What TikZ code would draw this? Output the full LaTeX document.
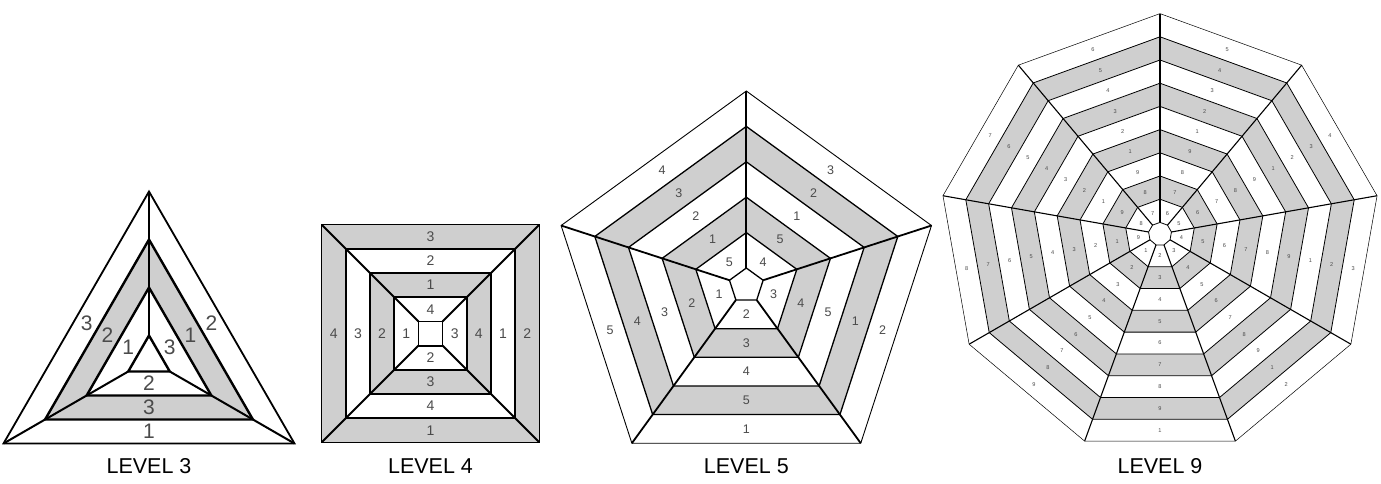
\documentclass[tikz,border=0pt]{standalone}
\usepackage{fontspec}
\setmainfont{Liberation Sans}
\usepackage{tikz}
\usetikzlibrary{calc}
\definecolor{ringgrey}{RGB}{207,207,207}
\definecolor{labelgrey}{RGB}{75,75,75}

\tikzset{
	digit/.style={text=labelgrey, inner sep=0pt},
	caption/.style={font=\fontsize{21.5}{24}\selectfont, inner sep=0pt}
}

\begin{document}
\begin{tikzpicture}[x=1pt, y=-1pt, line join=miter]
		\useasboundingbox (0,0) rectangle (1381,483);
		\foreach \n/\cx/\cy/\s/\fs/\rw/\ow/\sw in {3/149/359.5/48/21/2.4/1.8/2.0, 4/430.5/333.5/34.2/14/1.8/1.5/1.8, 5/746.3/285.7/35.4/12.5/1.3/0.9/1.8, 9/1160/234/23.2/5.6/0.8/0.5/1.1} {
			\pgfmathtruncatemacro{\last}{\n-1}
			\begin{scope}[shift={(\cx,\cy)}]
				% corners of every ring
				\foreach \k in {0,...,\n} {
					\foreach \i in {0,...,\last} {
						\coordinate (p\n-\k-\i) at ({90-180/\n+360*\i/\n}:{\s*(\k+0.5)});
					}
				}
				% rings, outside in
				\foreach \k in {\n,...,1} {
					\pgfmathsetmacro{\w}{ifthenelse(\k==\n,\ow,\rw)}
					\ifodd\k \def\tone{white}\else \def\tone{ringgrey}\fi
					\filldraw[line width=\w pt, fill=\tone] (p\n-\k-0) \foreach \i in {1,...,\last} { -- (p\n-\k-\i) } -- cycle;
				}
				\filldraw[line width=\rw pt, fill=white] (p\n-0-0) \foreach \i in {1,...,\last} { -- (p\n-0-\i) } -- cycle;
				\foreach \i in {0,...,\last} {
					\draw[line width=\sw pt] (p\n-0-\i) -- (p\n-\n-\i);
				}
				% numbers
				\foreach \k in {1,...,\n} {
					\foreach \j in {0,...,\last} {
						\pgfmathtruncatemacro{\lab}{mod(\k-\j+\n,\n)+1}
						\node[digit, font=\fontsize{\fs}{\fs}\selectfont] (lab\n-\k-\j) at ({90+360*\j/\n}:{\s*\k*cos(180/\n)}) {\lab};
					}
				}
			\end{scope}
			\node[caption] (level\n) at (\cx,466) {LEVEL \n};
		}
	\end{tikzpicture}
\end{document}
